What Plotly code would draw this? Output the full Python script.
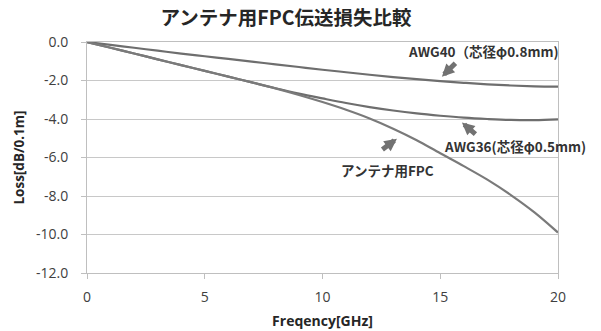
import plotly.graph_objects as go

freq = list(range(0, 21))
awg40 = [0, -0.15, -0.30, -0.45, -0.60, -0.74, -0.88, -1.02, -1.16, -1.30, -1.44,
         -1.57, -1.70, -1.82, -1.93, -2.03, -2.12, -2.20, -2.26, -2.30, -2.32]
awg36 = [0, -0.30, -0.60, -0.90, -1.20, -1.50, -1.80, -2.10, -2.40, -2.68, -2.93,
         -3.17, -3.38, -3.56, -3.71, -3.83, -3.93, -4.00, -4.05, -4.06, -4.02]
fpc = [0, -0.30, -0.60, -0.90, -1.20, -1.50, -1.80, -2.10, -2.41, -2.75, -3.12,
       -3.52, -3.97, -4.50, -5.10, -5.78, -6.45, -7.15, -7.95, -8.85, -9.90]

xticks = [0, 5, 10, 15, 20]
yticks = [0, -2, -4, -6, -8, -10, -12]

title = "アンテナ用FPC伝送損失比較"
xtitle = "Freqency[GHz]"
ytitle = "Loss[dB/0.1m]"
label_awg40 = "AWG40（芯径φ0.8mm)"
label_awg36 = "AWG36(芯径φ0.5mm)"
label_fpc = "アンテナ用FPC"

FONT = "Open Sans, Noto Sans CJK JP, sans-serif"
JFONT = "Noto Sans CJK JP, Open Sans, sans-serif"
LINE = "#727272"

fig = go.Figure()
for name, ys, col in [("AWG40", awg40, "#6e6e6e"), ("AWG36", awg36, "#6e6e6e"), ("FPC", fpc, "#7a7a7a")]:
    fig.add_trace(go.Scatter(x=freq, y=ys, mode="lines", name=name,
                             line=dict(color=col, width=2.2, shape="spline")))

def ann_text(text, x, y):
    fig.add_annotation(x=x, y=y, xref="x", yref="y", text="<b>" + text + "</b>",
                       showarrow=False, font=dict(family=JFONT, size=13.5, color="#333333"))

def ann_arrow(x, y, ax, ay):
    fig.add_annotation(x=x, y=y, xref="x", yref="y", text="", showarrow=True,
                       ax=ax, ay=ay, arrowhead=2, arrowwidth=5, arrowsize=0.5,
                       arrowcolor=LINE)

ann_text(label_awg40, 16.82, -0.47)
ann_text(label_awg36, 18.17, -5.4)
ann_text(label_fpc, 12.78, -6.65)
ann_arrow(15.07, -1.80, 15, -15)
ann_arrow(15.92, -4.18, 15, 13)
ann_arrow(13.16, -5.02, -16, 12)

fig.update_layout(
    width=601, height=331,
    margin=dict(l=87, r=43, t=42, b=58, autoexpand=False),
    paper_bgcolor="white", plot_bgcolor="white",
    showlegend=False,
    font=dict(family=FONT, color="#404040", size=13),
    title=dict(text="<b>" + title + "</b>", x=286 / 601, xanchor="center",
               y=1 - 18 / 331, yanchor="middle",
               font=dict(family=JFONT, size=19.5, color="#262626")),
)
fig.update_xaxes(
    range=[0, 20], tickvals=xticks, ticktext=[str(v) for v in xticks],
    showgrid=False, zeroline=False, automargin=False,
    showline=True, linecolor="#bfbfbf", linewidth=1, mirror=True,
    ticks="outside", ticklen=5, tickcolor="#bfbfbf",
    ticklabelstandoff=6,
    tickfont=dict(family=FONT, size=14, color="#404040"),
    title=dict(text="<b>" + xtitle + "</b>", standoff=11,
               font=dict(family=FONT, size=14, color="#262626")),
)
fig.update_yaxes(
    range=[-12, 0], tickvals=yticks, ticktext=[f"{v:.1f}" for v in yticks],
    showgrid=True, gridcolor="#c8c8c8", gridwidth=1, zeroline=False, automargin=False,
    showline=True, linecolor="#bfbfbf", linewidth=1, mirror=True,
    ticks="outside", ticklen=5, tickcolor="#bfbfbf",
    ticklabelstandoff=10,
    tickfont=dict(family=FONT, size=14, color="#404040"),
    title=dict(text="<b>" + ytitle + "</b>", standoff=8,
               font=dict(family=FONT, size=13.5, color="#262626")),
)

fig.write_html("out.html", config={"displayModeBar": False},
               post_script="document.body.style.margin='0';document.body.style.overflow='hidden';")
